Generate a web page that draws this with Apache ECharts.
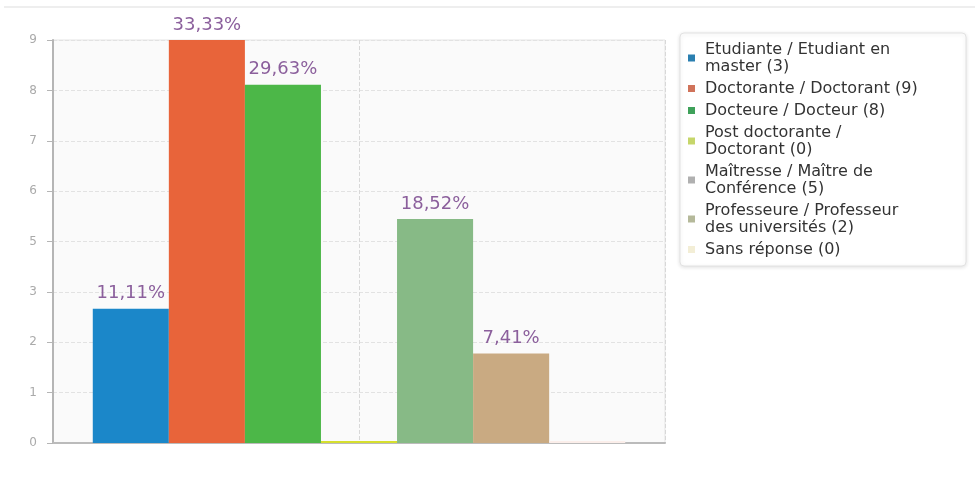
<!DOCTYPE html>
<html>
<head>
<meta charset="utf-8">
<script src="https://cdn.jsdelivr.net/npm/echarts@6/dist/echarts.min.js"></script>
<style>
    html, body { margin: 0; padding: 0; background: #fff; }
    #grafico { width: 975px; height: 504px; }
</style>
</head>
<body>
<div id="grafico"></div>
<script>
var categorias = [
    'Etudiante / Etudiant en master (3)',
    'Doctorante / Doctorant (9)',
    'Docteure / Docteur (8)',
    'Post doctorante / Doctorant (0)',
    'Maîtresse / Maître de Conférence (5)',
    'Professeure / Professeur des universités (2)',
    'Sans réponse (0)'
];
var valores = [3, 9, 8, 0, 5, 2, 0];
var rotulos = ['11,11%', '33,33%', '29,63%', '', '18,52%', '7,41%', ''];
var coresBarras = ['#1b87c9', '#e8643a', '#4cb748', '#d6df2e', '#87ba86', '#c9aa82', '#fbeeea'];
var coresLegenda = ['#2a7fb0', '#d0735a', '#3fa15a', '#c6d66a', '#b0b0b0', '#b5b99a', '#f3eed6'];

var myChart = echarts.init(document.getElementById('grafico'));

var series_grafico = [];
var legenda = [];

categorias.forEach(function (nome, i) {
    series_grafico.push({
        name: nome,
        type: 'bar',
        barGap: '0%',
        barCategoryGap: '13%',
        barMinHeight: 2,
        itemStyle: { color: coresBarras[i] },
        label: {
            show: true,
            position: 'top',
            distance: 6,
            color: '#8b5f9c',
            fontSize: 18,
            fontFamily: 'DejaVu Sans',
            formatter: function () { return rotulos[i]; }
        },
        data: [valores[i]]
    });
    legenda.push({ name: nome, itemStyle: { color: coresLegenda[i] } });
});

var option = {
    animation: false,
    graphic: [{
        type: 'line',
        shape: { x1: 4, y1: 7, x2: 975, y2: 7 },
        style: { stroke: '#eeeeee', lineWidth: 2 }
    }],
    grid: {
        left: 53,
        right: 310,
        top: 40,
        bottom: 61,
        show: true,
        backgroundColor: '#fafafa',
        borderColor: '#e4e4e4',
        borderWidth: 1
    },
    legend: {
        orient: 'vertical',
        left: 680,
        top: 33,
        data: legenda,
        icon: 'rect',
        itemWidth: 7,
        itemHeight: 7,
        itemGap: 5,
        padding: [8, 43, 8, 8],
        backgroundColor: '#ffffff',
        borderColor: '#e2e2e2',
        borderWidth: 1,
        borderRadius: 4,
        shadowColor: 'rgba(0,0,0,0.12)',
        shadowBlur: 4,
        shadowOffsetY: 1,
        textStyle: {
            color: '#333',
            fontSize: 16,
            fontFamily: 'DejaVu Sans',
            lineHeight: 17,
            width: 218,
            overflow: 'break',
            padding: [0, 0, 0, 5]
        }
    },
    xAxis: [{
        type: 'category',
        data: [''],
        axisLine: { lineStyle: { color: '#bbbbbb', width: 2 } },
        axisTick: { show: false },
        axisLabel: { show: false },
        splitLine: { show: false }
    }, {
        // eixo auxiliar só para a linha vertical tracejada do meio
        type: 'value',
        min: 0,
        max: 2,
        interval: 1,
        position: 'bottom',
        axisLine: { show: false },
        axisTick: { show: false },
        axisLabel: { show: false },
        splitLine: { show: true, lineStyle: { color: '#d8d8d8', type: 'dashed' } }
    }],
    yAxis: {
        type: 'value',
        min: 0,
        max: 9,
        interval: 1.125,
        axisLine: { show: true, lineStyle: { color: '#b5b5b5', width: 2 } },
        axisTick: { show: true, length: 6, lineStyle: { color: '#b5b5b5' } },
        axisLabel: {
            color: '#aaa',
            fontSize: 12,
            fontFamily: 'DejaVu Sans',
            margin: 16,
            formatter: function (v) { return Math.round(v); }
        },
        splitLine: { lineStyle: { color: '#e2e2e2', type: 'dashed' } }
    },
    series: series_grafico
};

myChart.setOption(option);
</script>
</body>
</html>
